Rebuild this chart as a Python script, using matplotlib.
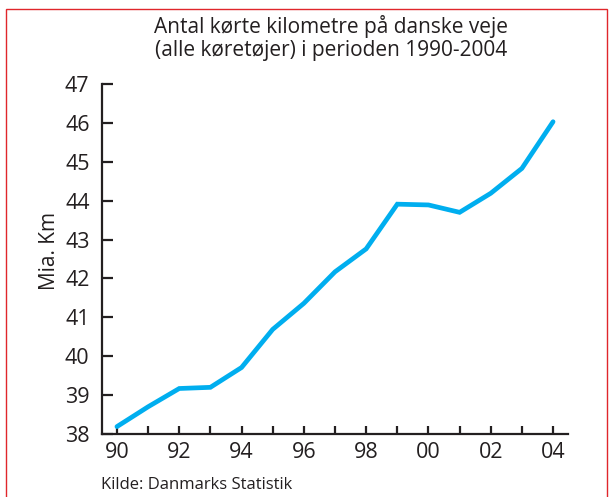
import matplotlib
matplotlib.use("Agg")
import matplotlib.pyplot as plt
from matplotlib.patches import Rectangle

years = [90, 91, 92, 93, 94, 95, 96, 97, 98, 99, 100, 101, 102, 103, 104]
km = [38.19, 38.70, 39.17, 39.20, 39.71, 40.69, 41.36, 42.17, 42.76, 43.91,
      43.89, 43.70, 44.19, 44.83, 46.03]
xtick_pos = [90, 92, 94, 96, 98, 100, 102, 104]
xtick_labels = ["90", "92", "94", "96", "98", "00", "02", "04"]
yticks = [38, 39, 40, 41, 42, 43, 44, 45, 46, 47]
title = "Antal kørte kilometre på danske veje\n(alle køretøjer) i perioden 1990-2004"
ylabel = "Mia. Km"
source = "Kilde: Danmarks Statistik"

plt.rcParams['font.family'] = ['Open Sans', 'DejaVu Sans']
dark = '#231f20'
W, H = 610, 497
fig = plt.figure(figsize=(W / 100, H / 100), dpi=100)

# red frame
fig.patches.append(Rectangle((6 / W, -0.1), (607 - 6) / W, (H - 8.5) / H + 0.1,
                             transform=fig.transFigure, fill=False,
                             edgecolor='#e0262b', linewidth=1.0))

ax = fig.add_axes([102 / W, (H - 434) / H, (568 - 102) / W, (434 - 84) / H])
ax.plot(years, km, color='#00aeef', linewidth=3.4, solid_capstyle='round',
        solid_joinstyle='miter')
ax.set_xlim(89.52, 104.48)
ax.set_ylim(38, 47)
ax.set_xticks(years, minor=True)
ax.set_xticks(xtick_pos)
ax.set_xticklabels(xtick_labels)
ax.set_yticks(yticks)
for s in ['top', 'right']:
    ax.spines[s].set_visible(False)
for s in ['left', 'bottom']:
    ax.spines[s].set_linewidth(1.6)
    ax.spines[s].set_color(dark)
ax.tick_params(axis='y', direction='in', length=8, width=1.6, color=dark,
               labelsize=15.5, labelcolor=dark, pad=9)
ax.tick_params(axis='x', which='both', direction='in', length=6, width=1.6,
               color=dark, labelsize=15.5, labelcolor=dark, pad=6)

fig.text(50 / W, 1 - 251 / H, ylabel, rotation=90, ha='center', va='center',
         fontsize=15, color=dark)
fig.text(331 / W, 1 - 15 / H, title, ha='center', va='top', fontsize=15,
         color=dark, linespacing=1.15)
fig.text(101 / W, 1 - 489 / H, source, ha='left', va='baseline', fontsize=12,
         color=dark)

fig.savefig('out.png', dpi=100)
